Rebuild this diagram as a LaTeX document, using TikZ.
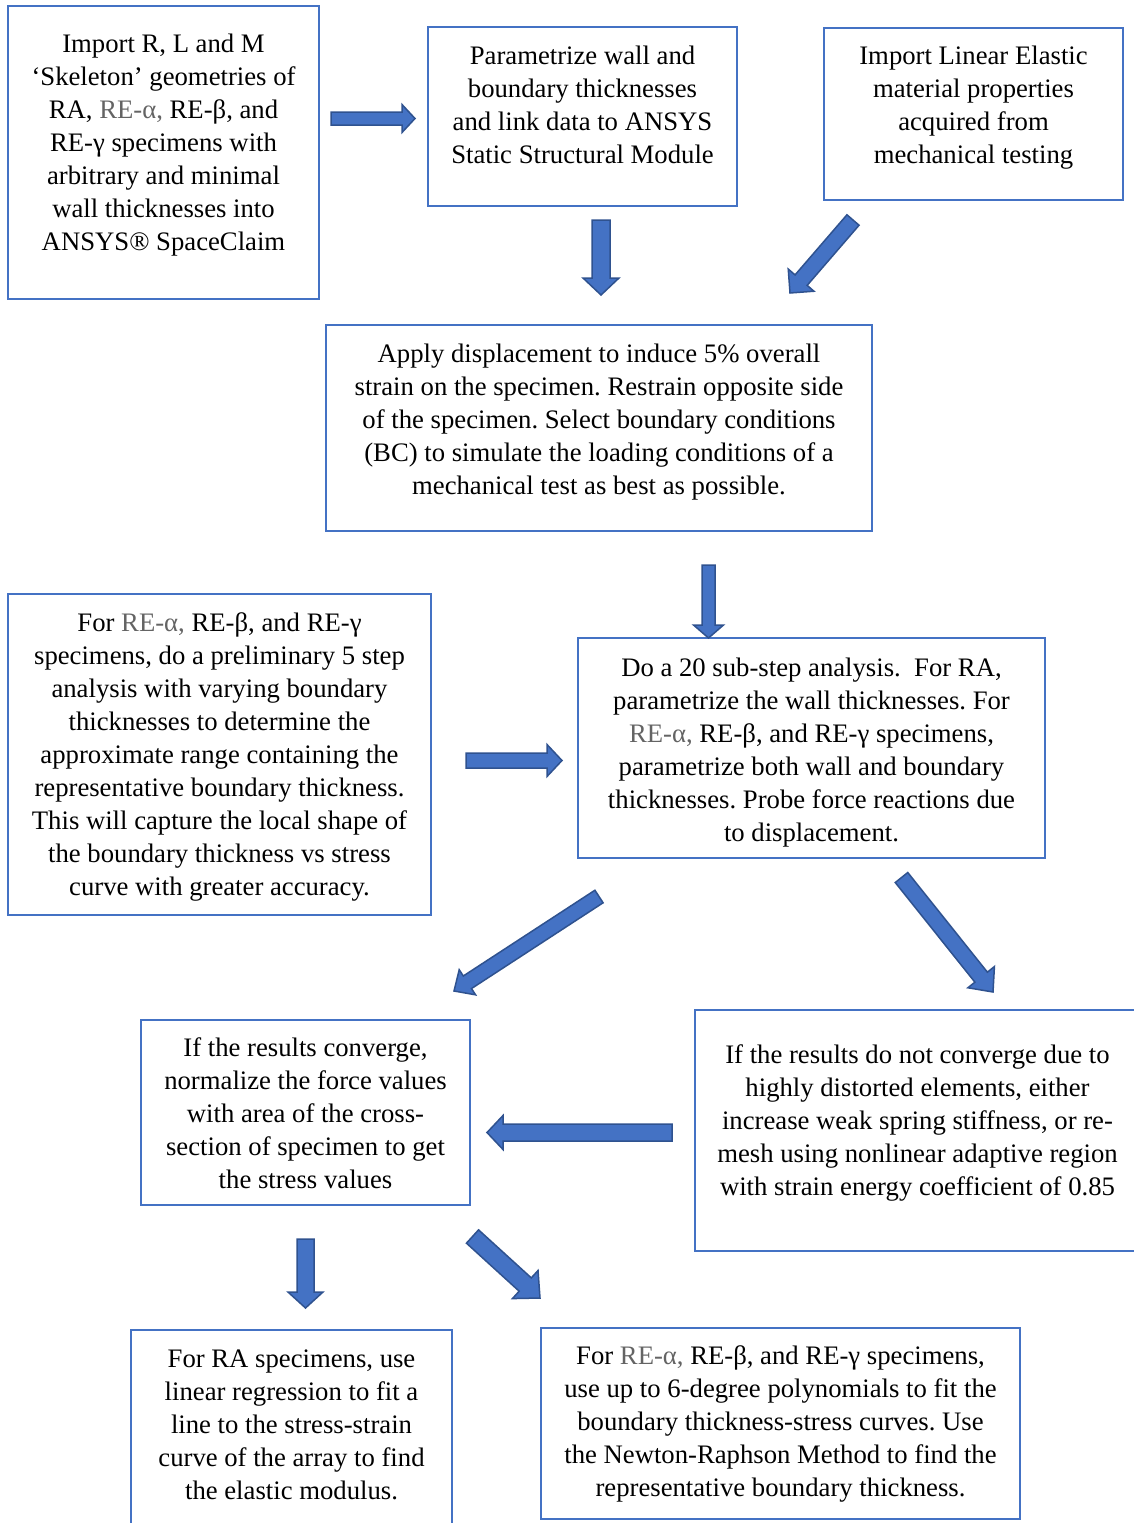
\documentclass[tikz,border=0pt]{standalone}
\usepackage{fontspec}
\setmainfont{Liberation Serif}
\usetikzlibrary{calc}
\definecolor{boxblue}{RGB}{68,114,196}
\definecolor{arrowfill}{RGB}{68,114,196}
\definecolor{arrowline}{RGB}{47,82,143}
\definecolor{greytxt}{RGB}{100,100,100}
\newcommand\gr[1]{\textcolor{greytxt}{#1}}
\newcommand\boxcontent[4]{\begin{minipage}[t][#2pt][t]{#1pt}\frenchspacing\centering\vspace*{#3pt}\strut #4\end{minipage}}
\newcommand\blockarrow[6]{%
  \coordinate (#1s) at (#2);
  \coordinate (#1e) at (#3);
  \coordinate (#1b) at ($(#1e)!#6pt!(#1s)$);
  \filldraw[barrow] ($(#1s)!#4pt!90:(#1e)$) -- ($(#1b)!#4pt!90:(#1e)$) -- ($(#1b)!#5pt!90:(#1e)$) -- (#1e)
    -- ($(#1b)!#5pt!-90:(#1e)$) -- ($(#1b)!#4pt!-90:(#1e)$) -- ($(#1s)!#4pt!-90:(#1e)$) -- cycle;
}
\begin{document}
\begin{tikzpicture}[x=1pt,y=-1pt,
  box/.style={draw=boxblue,line width=2.5pt,inner sep=0pt,outer sep=0pt,anchor=north west,font=\fontsize{26.7}{33}\selectfont},
  barrow/.style={fill=arrowfill,draw=arrowline,line width=1.5pt,line join=miter}]
\useasboundingbox (0,0) rectangle (1134,1523);

\node[box] (b1) at (8,6) {\boxcontent{311}{293}{23}{Import R, L and M\\
‘Skeleton’ geometries of\\
RA, \gr{RE-α,} RE-β, and\\
RE-γ specimens with\\
arbitrary and minimal\\
wall thicknesses into\\
ANSYS® SpaceClaim}};

\node[box] (b2) at (428,27) {\boxcontent{309}{179}{14}{Parametrize wall and\\
boundary thicknesses\\
and link data to ANSYS\\
Static Structural Module}};

\node[box] (b3) at (824,28) {\boxcontent{299}{172}{13}{Import Linear Elastic\\
material properties\\
acquired from\\
mechanical testing}};

\node[box] (b4) at (326,325) {\boxcontent{546}{206}{14}{Apply displacement to induce 5\% overall\\
strain on the specimen. Restrain opposite side\\
of the specimen. Select boundary conditions\\
(BC) to simulate the loading conditions of a\\
mechanical test as best as possible.}};

\node[box] (b5) at (8,594) {\boxcontent{423}{321}{14}{For \gr{RE-α,} RE-β, and RE-γ\\
specimens, do a preliminary 5 step\\
analysis with varying boundary\\
thicknesses to determine the\\
approximate range containing the\\
representative boundary thickness.\\
This will capture the local shape of\\
the boundary thickness vs stress\\
curve with greater accuracy.}};

\node[box] (b6) at (578,638) {\boxcontent{467}{220}{15}{Do a 20 sub-step analysis.\ \ For RA,\\
parametrize the wall thicknesses. For\\
\gr{RE-α,} RE-β, and RE-γ specimens,\\
parametrize both wall and boundary\\
thicknesses. Probe force reactions due\\
to displacement.}};

\node[box] (b7) at (141,1020) {\boxcontent{329}{185}{13}{If the results converge,\\
normalize the force values\\
with area of the cross-\\
section of specimen to get\\
the stress values}};

\node[box] (b8) at (695,1010) {\boxcontent{445}{241}{30}{If the results do not converge due to\\
highly distorted elements, either\\
increase weak spring stiffness, or re-\\
mesh using nonlinear adaptive region\\
with strain energy coefficient of 0.85}};

\node[box] (b9) at (131,1330) {\boxcontent{321}{220}{14}{For RA specimens, use\\
linear regression to fit a\\
line to the stress-strain\\
curve of the array to find\\
the elastic modulus.}};

\node[box] (b10) at (541,1328) {\boxcontent{479}{191}{13}{For \gr{RE-α,} RE-β, and RE-γ specimens,\\
use up to 6-degree polynomials to fit the\\
boundary thickness-stress curves. Use\\
the Newton-Raphson Method to find the\\
representative boundary thickness.}};

\blockarrow{aa}{331,118.5}{415,118.5}{6.5}{14}{13}
\blockarrow{ab}{601,220}{601,295}{9}{18}{17}
\blockarrow{ac}{853,220}{790,293}{8}{17}{17}
\blockarrow{ad}{708.5,565}{708.5,638}{6.5}{15}{13}
\blockarrow{ae}{466,760.5}{562,760.5}{7.5}{16}{15}
\blockarrow{af}{599,896.5}{454,991}{7.5}{15}{16}
\blockarrow{ag}{901.5,877.5}{993,992}{8}{17}{19}
\blockarrow{ah}{672,1132.5}{487,1132.5}{8.5}{17}{16}
\blockarrow{ai}{305.5,1239}{305.5,1308}{8.5}{17.5}{16}
\blockarrow{aj}{472.5,1236.5}{540,1298}{9}{19}{20}
\end{tikzpicture}
\end{document}
